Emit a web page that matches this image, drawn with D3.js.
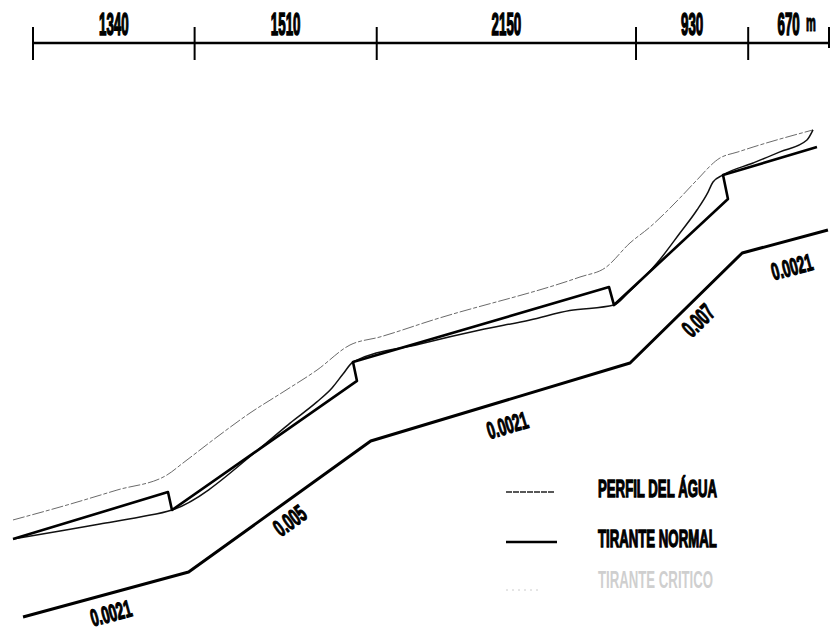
<!DOCTYPE html>
<html>
<head>
<meta charset="utf-8">
<script src="https://cdn.jsdelivr.net/npm/d3@7"></script>
<style>
  html, body { margin: 0; padding: 0; background: #fff; }
  svg { display: block; }
  text { font-family: "Liberation Sans", Arial, sans-serif; font-weight: bold; }
</style>
</head>
<body>
<script>
// ---------------- DATA ----------------
// Reach lengths along the channel (m) and their labels
const reachLengths = [1340, 1510, 2150, 930, 670];
const reachLabels = ["1340", "1510", "2150", "930", "670"];
const lengthUnit = "m";
// Bed slopes of each reach
const slopeLabels = ["0.0021", "0.005", "0.0021", "0.007", "0.0021"];

// [station (m), elevation (m)]
const bedProfile = [
  [-33, 1.37], [1340, 4.05], [2850, 11.85], [5000, 16.50], [5930, 23.05], [6641, 24.42]
];
const normalDepth = [
  [-116, 6.02], [1169, 8.81], [1202, 7.74], [2736, 15.43], [2703, 16.56],
  [4826, 21.02], [4867, 19.95], [5812, 26.27], [5771, 27.70], [6550, 29.36]
];
const waterProfile = [
  [-116, 6.02], [274, 6.49], [605, 6.91], [937, 7.33], [1202, 7.74],
  [1973, 11.67], [2181, 12.92], [2404, 14.18], [2529, 15.01], [2620, 15.84], [2703, 16.56],
  [3259, 17.63], [3756, 18.46], [4171, 19.06], [4500, 19.62], [4867, 19.95],
  [4983, 20.67], [5224, 22.45], [5414, 24.24], [5555, 25.61], [5647, 26.68], [5688, 27.28], [5771, 27.70],
  [6020, 28.41], [6243, 29.07], [6467, 29.78], [6517, 30.38]
];
const criticalDepth = [
  [-116, 7.15], [332, 8.04], [746, 8.93], [1161, 9.83], [1293, 10.54], [1575, 12.09],
  [1849, 13.52], [2123, 14.77], [2405, 16.08], [2678, 17.57], [2927, 18.05], [3366, 19.06],
  [4585, 21.62], [4793, 22.16], [5000, 23.65], [5166, 24.60], [5414, 26.33], [5539, 27.28],
  [5746, 28.71], [5895, 29.07], [6020, 29.36], [6517, 30.38]
];
const legendLabels = ["PERFIL DEL ÁGUA", "TIRANTE NORMAL", "TIRANTE CRITICO"];

// ---------------- LAYOUT ----------------
const W = 831, H = 631;
const slopeLabelOffset = [19, 17, 24, 17, 26];

const svg = d3.select("body").append("svg").attr("width", W).attr("height", H);

const total = d3.sum(reachLengths);
const cum = [0];
reachLengths.forEach(l => cum.push(cum[cum.length - 1] + l));

const xBar = d3.scaleLinear().domain([0, total]).range([33, 829]);
const xP = d3.scaleLinear().domain([0, total]).range([27, 823]);
const y = d3.scaleLinear().domain([0, 38]).range([640, 2]);

// ---- Scale bar ----
const bar = svg.append("g");
bar.append("line")
  .attr("x1", xBar(0)).attr("x2", xBar(total))
  .attr("y1", 43).attr("y2", 43)
  .attr("stroke", "#000").attr("stroke-width", 2.5);
bar.selectAll("line.tick").data(cum).enter().append("line")
  .attr("class", "tick")
  .attr("x1", d => xBar(d)).attr("x2", d => xBar(d))
  .attr("y1", 27).attr("y2", (d, i) => i === cum.length - 1 ? 48 : 60)
  .attr("stroke", "#000").attr("stroke-width", 2);
bar.selectAll("text.len").data(reachLabels).enter().append("text")
  .attr("class", "len")
  .attr("text-anchor", "middle")
  .attr("font-size", 31)
  .attr("stroke", "#000").attr("stroke-width", 1.6)
  .attr("transform", (d, i) => `translate(${(xBar(cum[i]) + xBar(cum[i + 1])) / 2},35) scale(0.43,1)`)
  .text(d => d);
bar.append("text")
  .attr("font-size", 23)
  .attr("stroke", "#000").attr("stroke-width", 1.2)
  .attr("transform", `translate(806,31) scale(0.48,1)`)
  .text(lengthUnit);

// ---- Profile lines ----
const line = d3.line().x(d => xP(d[0])).y(d => y(d[1]));
const smooth = d3.line().x(d => xP(d[0])).y(d => y(d[1])).curve(d3.curveMonotoneX);

svg.append("path").datum(criticalDepth)
  .attr("d", smooth).attr("fill", "none")
  .attr("stroke", "#6a6a6a").attr("stroke-width", 1)
  .attr("stroke-dasharray", "12,2,4,2");

svg.append("path").datum(waterProfile)
  .attr("d", smooth).attr("fill", "none")
  .attr("stroke", "#111").attr("stroke-width", 1.5);

svg.append("path").datum(normalDepth)
  .attr("d", line).attr("fill", "none")
  .attr("stroke", "#000").attr("stroke-width", 2.6)
  .attr("stroke-linejoin", "round");

svg.append("path").datum(bedProfile)
  .attr("d", line).attr("fill", "none")
  .attr("stroke", "#000").attr("stroke-width", 3)
  .attr("stroke-linejoin", "round");

// ---- Slope labels ----
svg.selectAll("text.slope").data(slopeLabels).enter().append("text")
  .attr("class", "slope")
  .attr("text-anchor", "middle")
  .attr("dominant-baseline", "central")
  .attr("font-size", 24)
  .attr("stroke", "#000").attr("stroke-width", 1.2)
  .attr("transform", (d, i) => {
    const x1 = xP(bedProfile[i][0]), y1 = y(bedProfile[i][1]);
    const x2 = xP(bedProfile[i + 1][0]), y2 = y(bedProfile[i + 1][1]);
    const th = Math.atan2(y2 - y1, x2 - x1);
    const off = slopeLabelOffset[i];
    const cx = (x1 + x2) / 2 - Math.sin(th) * off;
    const cy = (y1 + y2) / 2 + Math.cos(th) * off;
    return `translate(${cx},${cy}) rotate(${th * 180 / Math.PI}) scale(0.57,1)`;
  })
  .text(d => d);

// ---- Legend ----
const legendStyles = [
  { stroke: "#222", width: 1.5, dash: "6,1", x2: 555, color: "#000", sw: 1.3 },
  { stroke: "#000", width: 2.6, dash: null, x2: 557, color: "#000", sw: 1.3 },
  { stroke: "#ccc", width: 1, dash: "2,4", x2: 540, color: "#cfcfcf", sw: 0 }
];
const legendY = [492, 542, 590];
const lg = svg.append("g");
legendLabels.forEach((lab, i) => {
  const st = legendStyles[i];
  lg.append("line")
    .attr("x1", 506).attr("x2", st.x2)
    .attr("y1", legendY[i]).attr("y2", legendY[i])
    .attr("stroke", st.stroke).attr("stroke-width", st.width)
    .attr("stroke-dasharray", st.dash);
  lg.append("text")
    .attr("font-size", 24)
    .attr("fill", st.color)
    .attr("stroke", st.sw ? st.color : "none").attr("stroke-width", st.sw)
    .attr("font-weight", i === 2 ? "normal" : "bold")
    .attr("transform", `translate(598,${legendY[i] + (i === 2 ? -2 : 5)}) scale(0.55,1)`)
    .text(lab);
});
</script>
</body>
</html>
